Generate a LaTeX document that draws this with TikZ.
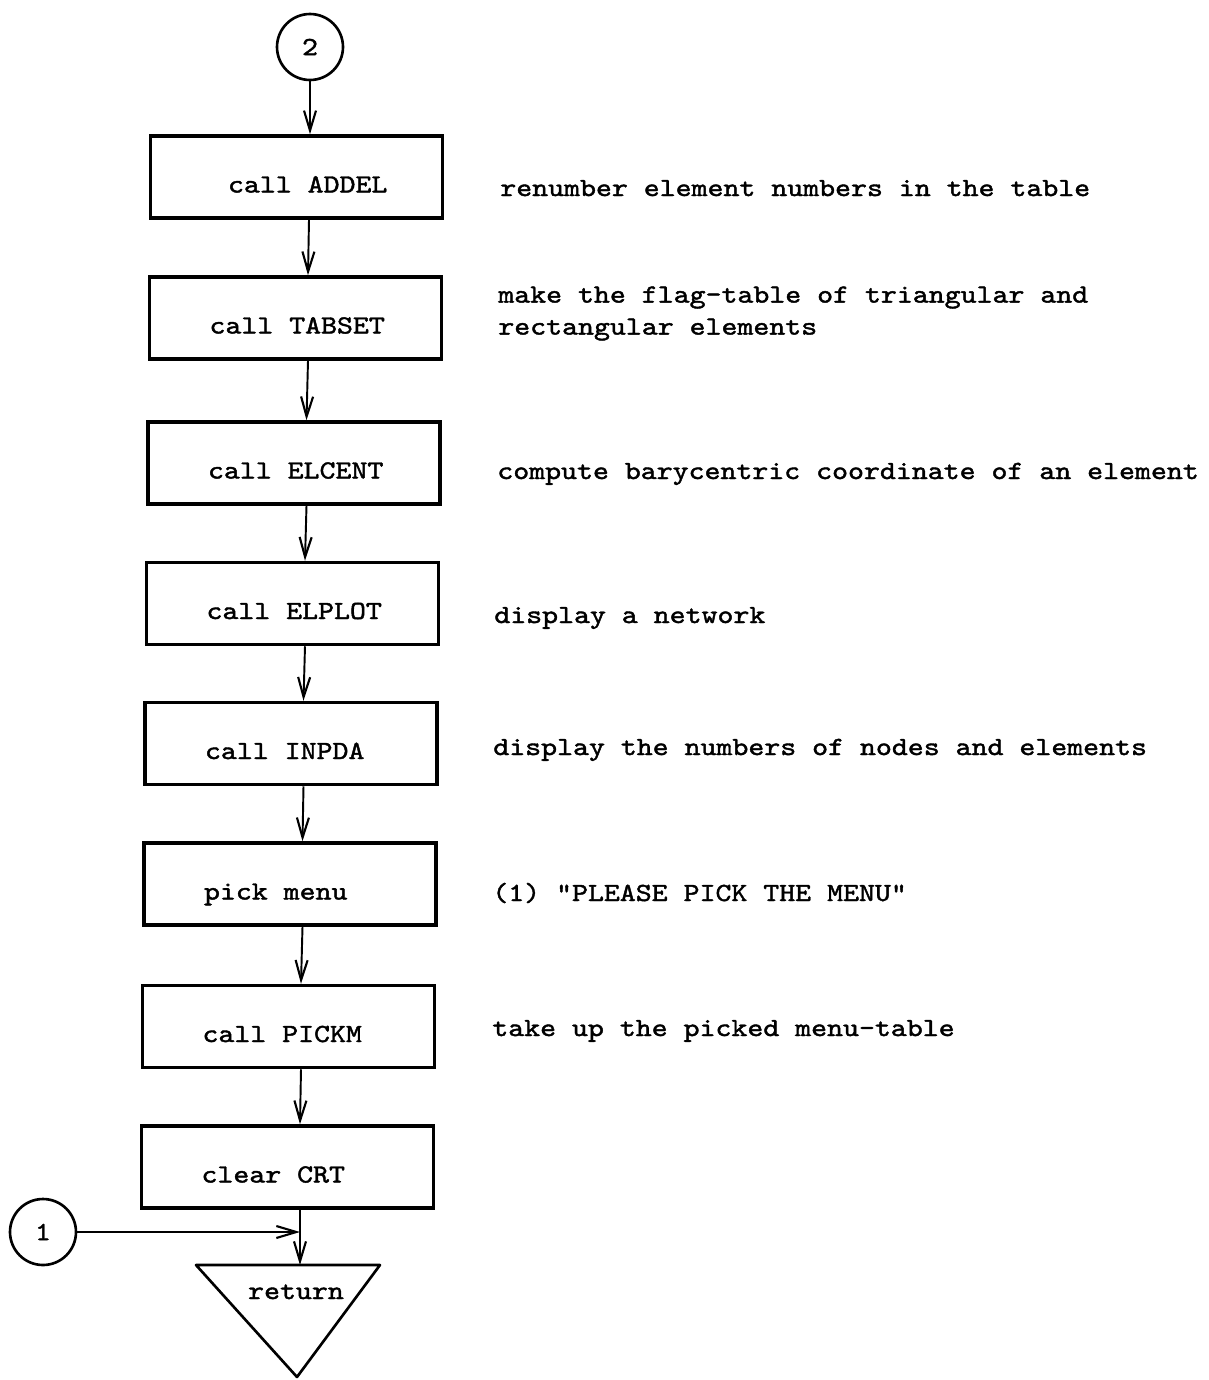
\documentclass[tikz,border=0pt]{standalone}
\usepackage{fontspec}
\setmonofont[FakeStretch=1.16, FakeBold=1.6]{lmmono10-regular.otf}
\usetikzlibrary{arrows.meta,calc}

% fixed-width slot so that every box label starts at the same inset
\newcommand{\boxlabel}[1]{\makebox[3.44cm][l]{#1}}

\tikzset{
  proc/.style={draw, line width=2pt, minimum width=5.84cm, minimum height=1.64cm,
               text height=0.62cm, text depth=0pt, inner sep=0pt},
  conn/.style={draw, circle, line width=1.5pt, minimum size=1.32cm, inner sep=0pt},
  note/.style={anchor=base west, inner sep=0pt},
  flow/.style={line width=1.1pt,
               -{Straight Barb[length=0.4cm,width=0.24cm,line width=1.2pt]}},
}

\begin{document}
\begin{tikzpicture}[x=0.02cm, y=-0.02cm,
    font=\ttfamily\fontsize{14.9}{18.2}\selectfont]
  \useasboundingbox (0,0) rectangle (1209,1380);

  % off-page connectors
  \node[conn] (c2) at (310,47)  {2};
  \node[conn] (c1) at (43,1232) {1};

  % process boxes
  \node[proc] (addel)  at (296.5,177)  {\boxlabel{\hspace*{0.35cm}call ADDEL}};
  \node[proc] (tabset) at (295.5,318)  {\boxlabel{call TABSET}};
  \node[proc] (elcent) at (294,463)    {\boxlabel{call ELCENT}};
  \node[proc] (elplot) at (292.5,603.5){\boxlabel{call ELPLOT}};
  \node[proc] (inpda)  at (291,743.5)  {\boxlabel{call INPDA}};
  \node[proc] (pick)   at (290,884)    {\boxlabel{pick menu}};
  \node[proc] (pickm)  at (288.5,1026.5){\boxlabel{call PICKM}};
  \node[proc] (crt)    at (287.5,1167) {\boxlabel{clear CRT}};

  % return terminal (downward triangle)
  \coordinate (rettop) at (300,1265);
  \draw[line width=1.5pt, line join=round] (196,1265) -- (380,1265) -- (297,1377) -- cycle;
  \node[anchor=base, inner sep=0pt] (ret) at (296,1299) {return};

  % comments beside the boxes
  \node[note] (n-addel)  at (500,196)  {renumber element numbers in the table};
  \node[note, anchor=west, align=left] (n-tabset) at (498,313.5)
    {make the flag-table of triangular and\\rectangular elements};
  \node[note] (n-elcent) at (497,479)  {compute barycentric coordinate of an element};
  \node[note] (n-elplot) at (494,623)  {display a network};
  \node[note] (n-inpda)  at (493,755)  {display the numbers of nodes and elements};
  \node[note] (n-pick)   at (492,901)  {(1) "PLEASE PICK THE MENU"};
  \node[note] (n-pickm)  at (492,1036) {take up the picked menu-table};

  % flow lines
  \draw[flow] (c2.south) -- (c2.south |- addel.north);
  \draw[flow] ([xshift=0.25cm]addel.south)  -- ([xshift=0.25cm]tabset.north);
  \draw[flow] ([xshift=0.25cm]tabset.south) -- ([xshift=0.25cm]elcent.north);
  \draw[flow] ([xshift=0.25cm]elcent.south) -- ([xshift=0.25cm]elplot.north);
  \draw[flow] ([xshift=0.25cm]elplot.south) -- ([xshift=0.25cm]inpda.north);
  \draw[flow] ([xshift=0.25cm]inpda.south)  -- ([xshift=0.25cm]pick.north);
  \draw[flow] ([xshift=0.25cm]pick.south)   -- ([xshift=0.25cm]pickm.north);
  \draw[flow] ([xshift=0.25cm]pickm.south)  -- ([xshift=0.25cm]crt.north);
  \draw[flow] ([xshift=0.25cm]crt.south)    -- (rettop);
  \draw[flow] (c1.east) -- (c1.east -| rettop);
\end{tikzpicture}
\end{document}
